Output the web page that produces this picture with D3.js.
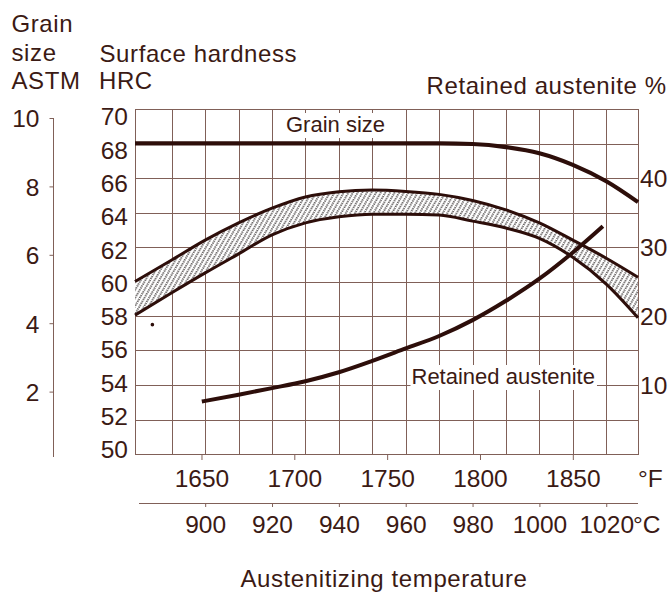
<!DOCTYPE html>
<html>
<head>
<meta charset="utf-8">
<script src="https://cdn.jsdelivr.net/npm/d3@7"></script>
<style>
  body { margin: 0; background: #fff; }
  svg text { font-family: "Liberation Sans", Arial, Helvetica, sans-serif; fill: #3b1a14; }
</style>
</head>
<body>
<svg id="chart" width="672" height="593"></svg>
<script>
// ---- data (temperatures in °C) ----
const hardnessTemps = [879, 890, 900, 910, 920, 930, 940, 950, 960, 970, 980, 990, 1000, 1010, 1020, 1029.5];
const hardnessMax   = [60.0, 61.25, 62.4, 63.4, 64.25, 64.9, 65.2, 65.3, 65.22, 65.05, 64.7, 64.15, 63.4, 62.4, 61.35, 60.25];
const hardnessMin   = [58.05, 59.35, 60.5, 61.6, 62.7, 63.4, 63.75, 63.9, 63.9, 63.85, 63.5, 63.1, 62.5, 61.4, 59.85, 57.9];

const grainTemps = [879, 930, 970, 980, 990, 1000, 1010, 1020, 1029.5];
const grainSize  = [9.26, 9.26, 9.26, 9.24, 9.15, 8.97, 8.63, 8.15, 7.54];

const austeniteTemps = [899, 910, 920, 930, 940, 950, 960, 970, 980, 990, 1000, 1010, 1019];
const austenitePct   = [7.6, 8.6, 9.55, 10.55, 11.85, 13.5, 15.3, 17.1, 19.4, 22.2, 25.4, 29.2, 33.0];

const strayPoint = [[884.2, 57.5]]; // [°C, HRC]

const fahrenheitTicks = [1650, 1700, 1750, 1800, 1850];
const celsiusTicks    = [900, 920, 940, 960, 980, 1000, 1020];
const hrcTicks        = [50, 52, 54, 56, 58, 60, 62, 64, 66, 68, 70];
const astmTicks       = [2, 4, 6, 8, 10];
const austeniteTicks  = [10, 20, 30, 40];

// ---- styling ----
const INK = "#2d0e0a";
const GRID = "#806058";
const TEXT = "#3b1a14";

const svg = d3.select("#chart");

// ---- scales ----
const cDomain = [879, 1029.5];
const toF = c => c * 1.8 + 32;
const xC = d3.scaleLinear().domain(cDomain).range([135, 638]);
const xF = d3.scaleLinear().domain(cDomain.map(toF)).range([135, 638]);
const yHRC = d3.scaleLinear().domain([50, 70]).range([454, 109]);
const yHRCLabel = d3.scaleLinear().domain([50, 70]).range([449, 116]);
const yASTM = d3.scaleLinear().domain([0, 10]).range([460, 118]);
const yRA = d3.scaleLinear().domain([0, 40]).range([yHRC(50), yHRC(66)]);

const [x0, x1] = xC.range();
const [yb, yt] = yHRC.range();
const crisp = v => Math.round(v) + 0.5;

// ---- hatch pattern for the hardness band ----
const defs = svg.append("defs");
const pat = defs.append("pattern")
  .attr("id", "hatch")
  .attr("patternUnits", "userSpaceOnUse")
  .attr("width", 4)
  .attr("height", 4.4)
  .attr("patternTransform", "rotate(30)");
pat.append("rect").attr("width", 4).attr("height", 4.4).attr("fill", "#fff");
pat.append("line")
  .attr("x1", 2).attr("y1", 0).attr("x2", 2).attr("y2", 4.4)
  .attr("stroke", "#262020").attr("stroke-width", 1.35)
  .attr("stroke-dasharray", "1.4 0.8");

// ---- grid ----
const grid = svg.append("g").attr("stroke", GRID).attr("stroke-width", 1);
grid.selectAll("line.v").data(d3.range(890, 1021, 10)).join("line")
  .attr("class", "v")
  .attr("x1", d => crisp(xC(d))).attr("x2", d => crisp(xC(d)))
  .attr("y1", yt).attr("y2", yb);
grid.selectAll("line.h").data(d3.range(52, 69, 2)).join("line")
  .attr("class", "h")
  .attr("x1", x0).attr("x2", x1)
  .attr("y1", d => crisp(yHRC(d))).attr("y2", d => crisp(yHRC(d)));
svg.append("rect")
  .attr("x", crisp(x0)).attr("y", crisp(yt))
  .attr("width", Math.round(x1) - Math.round(x0)).attr("height", Math.round(yb) - Math.round(yt))
  .attr("fill", "none").attr("stroke", GRID).attr("stroke-width", 1);

// ---- hardness band ----
const band = hardnessTemps.map((t, i) => ({ t, hi: hardnessMax[i], lo: hardnessMin[i] }));
svg.append("path").datum(band)
  .attr("fill", "url(#hatch)")
  .attr("d", d3.area().x(d => xC(d.t)).y0(d => yHRC(d.lo)).y1(d => yHRC(d.hi)).curve(d3.curveMonotoneX));
["hi", "lo"].forEach(k => {
  svg.append("path").datum(band)
    .attr("fill", "none").attr("stroke", INK).attr("stroke-width", 3)
    .attr("d", d3.line().x(d => xC(d.t)).y(d => yHRC(d[k])).curve(d3.curveMonotoneX));
});

// ---- grain size ----
svg.append("path").datum(grainTemps.map((t, i) => [t, grainSize[i]]))
  .attr("fill", "none").attr("stroke", INK).attr("stroke-width", 4.2)
  .attr("d", d3.line().x(d => xC(d[0])).y(d => yASTM(d[1])).curve(d3.curveMonotoneX));

// ---- retained austenite ----
svg.append("path").datum(austeniteTemps.map((t, i) => [t, austenitePct[i]]))
  .attr("fill", "none").attr("stroke", INK).attr("stroke-width", 4)
  .attr("d", d3.line().x(d => xC(d[0])).y(d => yRA(d[1])).curve(d3.curveMonotoneX));

svg.selectAll("circle.stray").data(strayPoint).join("circle")
  .attr("class", "stray")
  .attr("cx", d => xC(d[0])).attr("cy", d => yHRC(d[1])).attr("r", 1.8).attr("fill", INK);

// ---- curve labels with white backing ----
function boxedLabel(text, x, y) {
  const g = svg.append("g");
  const r = g.append("rect").attr("fill", "#fff");
  const t = g.append("text").attr("x", x).attr("y", y)
    .style("font-size", "22px").text(text);
  const bb = t.node().getBBox();
  r.attr("x", bb.x - 1).attr("y", bb.y + 1).attr("width", bb.width + 3).attr("height", bb.height);
}
boxedLabel("Grain size", 286, 132);
boxedLabel("Retained austenite", 411.5, 384);

// ---- axes ----
function styleAxis(g, size) {
  g.attr("font-family", null).attr("font-size", null).attr("color", GRID);
  g.selectAll("text").style("font-size", size).attr("fill", TEXT);
}

// °F along the bottom edge of the plot
const axF = svg.append("g").attr("transform", `translate(0,${yb})`)
  .call(d3.axisBottom(xF).tickValues(fahrenheitTicks).tickSize(6).tickFormat(d3.format("d")));
axF.select(".domain").remove();
styleAxis(axF, "24.5px");
axF.selectAll("text").attr("y", 33).attr("dy", 0);
svg.append("text").attr("x", 638).attr("y", yb + 33).style("font-size", "24.5px").text("°F");

// °C on its own baseline
const axC = svg.append("g").attr("transform", "translate(0,503)")
  .call(d3.axisBottom(xC).tickValues(celsiusTicks).tickSize(4).tickSizeOuter(0).tickFormat(d3.format("d")));
axC.select(".domain").attr("d", `M${x0 + 4},0.5H${x1}`);
styleAxis(axC, "24.5px");
axC.selectAll("text").attr("y", 30).attr("dy", 0);
svg.append("text").attr("x", 633).attr("y", 533).style("font-size", "24.5px").text("°C");

// Grain size ASTM (far left)
const axA = svg.append("g").attr("transform", "translate(53.5,0)")
  .call(d3.axisLeft(yASTM).tickValues(astmTicks).tickSize(4).tickSizeOuter(0));
axA.select(".domain").attr("d", `M0,${yASTM(10)}V${yASTM(0) - 3}`);
styleAxis(axA, "24.5px");
axA.selectAll("text").attr("x", -14).attr("dy", "0.36em");

// Surface hardness HRC
const axH = svg.append("g").attr("transform", "translate(128,0)")
  .call(d3.axisLeft(yHRCLabel).tickValues(hrcTicks).tickSize(0));
axH.select(".domain").remove();
styleAxis(axH, "24.5px");
axH.selectAll("text").attr("x", 0).attr("dy", "0.36em");

// Retained austenite % (right)
const axR = svg.append("g").attr("transform", "translate(640,0)")
  .call(d3.axisRight(yRA).tickValues(austeniteTicks).tickSize(0));
axR.select(".domain").remove();
styleAxis(axR, "24.5px");
axR.selectAll("text").attr("x", 0).attr("dy", "0.36em");

// ---- axis titles ----
const title = (txt, x, y, anchor) => svg.append("text")
  .attr("x", x).attr("y", y).attr("text-anchor", anchor || "start")
  .style("font-size", "24px").style("letter-spacing", "0.6px").text(txt);
title("Grain", 11.5, 32);
title("size", 11.5, 61);
title("ASTM", 11.5, 88.5);
title("Surface hardness", 99.5, 61.5);
title("HRC", 99, 89);
title("Retained austenite %", 426.5, 94);
title("Austenitizing temperature", 384, 587, "middle");
</script>
</body>
</html>
